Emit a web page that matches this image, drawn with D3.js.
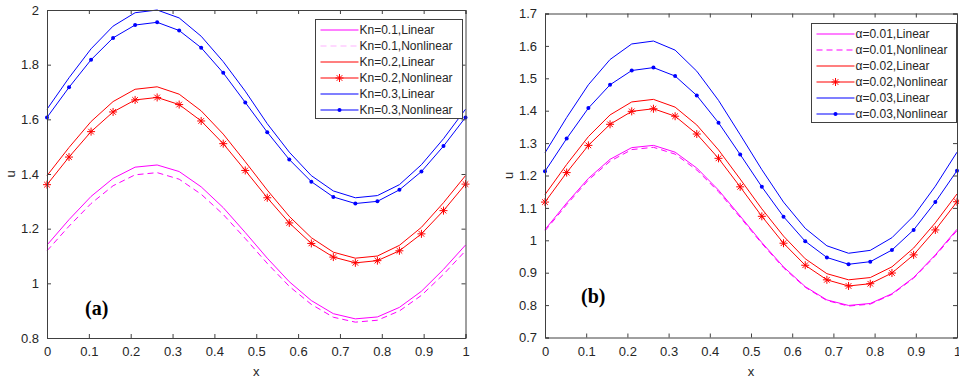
<!DOCTYPE html>
<html>
<head>
<meta charset="utf-8">
<script src="https://cdn.jsdelivr.net/npm/d3@7"></script>
<style>
  body { margin: 0; background: #fff; }
  svg { display: block; font-family: "Liberation Sans", Arial, sans-serif; }
</style>
</head>
<body>
<div id="chart"></div>
<script>
// x grid shared by every curve (20 samples)
const xs = [0, 0.0526, 0.1053, 0.1579, 0.2105, 0.2632, 0.3158, 0.3684, 0.4211, 0.4737,
  0.5263, 0.5789, 0.6316, 0.6842, 0.7368, 0.7895, 0.8421, 0.8947, 0.9474, 1];

// panel (a): Knudsen number
const kn01Linear = [1.140, 1.233, 1.318, 1.384, 1.425, 1.433, 1.409, 1.353, 1.277, 1.186,
  1.092, 1.006, 0.937, 0.889, 0.870, 0.877, 0.912, 0.971, 1.051, 1.140];
const kn01Nonlinear = [1.119, 1.209, 1.292, 1.357, 1.397, 1.405, 1.381, 1.326, 1.252, 1.164,
  1.073, 0.989, 0.923, 0.876, 0.858, 0.865, 0.899, 0.956, 1.033, 1.119];
const kn02Linear = [1.394, 1.497, 1.592, 1.665, 1.710, 1.719, 1.692, 1.631, 1.546, 1.445,
  1.341, 1.245, 1.167, 1.114, 1.092, 1.100, 1.139, 1.205, 1.295, 1.394];
const kn02Nonlinear = [1.361, 1.462, 1.555, 1.627, 1.671, 1.680, 1.654, 1.594, 1.511, 1.413,
  1.313, 1.221, 1.146, 1.096, 1.075, 1.083, 1.119, 1.181, 1.266, 1.363];
const kn03Linear = [1.637, 1.752, 1.858, 1.941, 1.990, 2.000, 1.971, 1.904, 1.811, 1.703,
  1.584, 1.480, 1.394, 1.338, 1.313, 1.321, 1.361, 1.434, 1.529, 1.637];
const kn03Nonlinear = [1.607, 1.717, 1.818, 1.898, 1.945, 1.955, 1.925, 1.862, 1.770, 1.662,
  1.553, 1.453, 1.372, 1.316, 1.292, 1.300, 1.342, 1.409, 1.502, 1.607];

// panel (b): alpha
const a001Linear = [1.033, 1.115, 1.191, 1.250, 1.286, 1.293, 1.272, 1.223, 1.155, 1.075,
  0.993, 0.918, 0.857, 0.816, 0.799, 0.805, 0.835, 0.885, 0.955, 1.034];
const a001Nonlinear = [1.029, 1.110, 1.186, 1.244, 1.280, 1.287, 1.266, 1.217, 1.150, 1.071,
  0.990, 0.915, 0.855, 0.814, 0.797, 0.803, 0.833, 0.883, 0.952, 1.030];
const a002Linear = [1.141, 1.234, 1.320, 1.387, 1.427, 1.435, 1.411, 1.356, 1.279, 1.189,
  1.097, 1.013, 0.943, 0.897, 0.878, 0.885, 0.918, 0.976, 1.054, 1.143];
const a002Nonlinear = [1.118, 1.209, 1.293, 1.358, 1.398, 1.406, 1.383, 1.328, 1.253, 1.165,
  1.074, 0.991, 0.923, 0.878, 0.859, 0.866, 0.899, 0.955, 1.032, 1.119];
const a003Linear = [1.270, 1.379, 1.480, 1.558, 1.606, 1.615, 1.587, 1.522, 1.432, 1.326,
  1.218, 1.118, 1.037, 0.983, 0.960, 0.969, 1.008, 1.075, 1.167, 1.272];
const a003Nonlinear = [1.213, 1.314, 1.408, 1.480, 1.524, 1.533, 1.507, 1.447, 1.363, 1.265,
  1.165, 1.073, 0.997, 0.947, 0.926, 0.934, 0.970, 1.032, 1.118, 1.215];

const xTicks = [0, 0.1, 0.2, 0.3, 0.4, 0.5, 0.6, 0.7, 0.8, 0.9, 1];
const yTicksA = [0.8, 1, 1.2, 1.4, 1.6, 1.8, 2];
const yTicksB = [0.7, 0.8, 0.9, 1, 1.1, 1.2, 1.3, 1.4, 1.5, 1.6, 1.7];

const namesA = ["Kn=0.1,Linear", "Kn=0.1,Nonlinear", "Kn=0.2,Linear", "Kn=0.2,Nonlinear", "Kn=0.3,Linear", "Kn=0.3,Nonlinear"];
const namesB = ["α=0.01,Linear", "α=0.01,Nonlinear", "α=0.02,Linear", "α=0.02,Nonlinear", "α=0.03,Linear", "α=0.03,Nonlinear"];

const W = 959, H = 379;
const axisColor = "#404040", textColor = "#262626";

const svg = d3.select("#chart").append("svg")
  .attr("width", W).attr("height", H);

// style per series slot (same in both panels)
const styles = [
  { color: "#ff00ff", dash: null, marker: null },
  { color: "#ff00ff", dash: "6,4", marker: null },
  { color: "#ff0000", dash: null, marker: null },
  { color: "#ff0000", dash: null, marker: "star" },
  { color: "#0000ff", dash: null, marker: null },
  { color: "#0000ff", dash: null, marker: "dot" }
];

function drawStar(g, x, y, color) {
  const r = 4;
  const s = g.append("g").attr("transform", `translate(${x},${y})`)
    .style("stroke", color).style("stroke-width", 1);
  s.append("line").attr("x1", -r).attr("x2", r).attr("y1", 0).attr("y2", 0);
  s.append("line").attr("x1", 0).attr("x2", 0).attr("y1", -r).attr("y2", r);
  s.append("line").attr("x1", -r * 0.7).attr("x2", r * 0.7).attr("y1", -r * 0.7).attr("y2", r * 0.7);
  s.append("line").attr("x1", -r * 0.7).attr("x2", r * 0.7).attr("y1", r * 0.7).attr("y2", -r * 0.7);
}

function drawPanel(p) {
  const x = d3.scaleLinear().domain([0, 1]).range([p.left, p.right]);
  const y = d3.scaleLinear().domain(p.yDomain).range([p.bottom, p.top]);
  const g = svg.append("g");

  // curves
  const curve = d3.line().x((d, i) => x(xs[i])).y(d => y(d));
  p.series.forEach((vals, k) => {
    const st = styles[k];
    g.append("path").datum(vals)
      .attr("d", curve)
      .style("fill", "none")
      .style("stroke", st.color)
      .style("stroke-width", 1)
      .style("stroke-dasharray", st.dash || "none");
    if (st.marker === "star") {
      vals.forEach((v, i) => drawStar(g, x(xs[i]), y(v), st.color));
    } else if (st.marker === "dot") {
      g.selectAll(null).data(vals).enter().append("circle")
        .attr("cx", (d, i) => x(xs[i])).attr("cy", d => y(d))
        .attr("r", 2).style("fill", st.color);
    }
  });

  // axes, ticks pointing inward on all four sides
  const fmt = d3.format("~g");
  const bottomAxis = g.append("g").attr("transform", `translate(0,${p.bottom})`)
    .call(d3.axisBottom(x).tickValues(xTicks).tickSize(-4).tickPadding(9).tickFormat(fmt));
  const topAxis = g.append("g").attr("transform", `translate(0,${p.top})`)
    .call(d3.axisTop(x).tickValues(xTicks).tickSize(-4).tickFormat(""));
  const leftAxis = g.append("g").attr("transform", `translate(${p.left},0)`)
    .call(d3.axisLeft(y).tickValues(p.yTicks).tickSize(-4).tickPadding(8).tickFormat(fmt));
  const rightAxis = g.append("g").attr("transform", `translate(${p.right},0)`)
    .call(d3.axisRight(y).tickValues(p.yTicks).tickSize(-4).tickFormat(""));
  [bottomAxis, topAxis, leftAxis, rightAxis].forEach(a => {
    a.select(".domain").attr("stroke", axisColor);
    a.selectAll(".tick line").attr("stroke", axisColor);
    a.selectAll(".tick text").attr("fill", textColor).attr("font-size", 13)
      .attr("font-family", "Liberation Sans, Arial, sans-serif");
  });

  // axis titles
  g.append("text").attr("x", (p.left + p.right) / 2).attr("y", 376)
    .attr("text-anchor", "middle").attr("font-size", 13).attr("fill", textColor).text("x");
  g.append("text")
    .attr("transform", `translate(${p.left - 32},${(p.top + p.bottom) / 2}) rotate(-90)`)
    .attr("text-anchor", "middle").attr("font-size", 13).attr("fill", textColor).text("u");

  // panel tag
  g.append("text").attr("x", p.tagX).attr("y", p.tagY)
    .attr("font-family", "Liberation Serif, Times New Roman, serif")
    .attr("font-weight", "bold").attr("font-size", 20).attr("fill", "#000")
    .text(p.tag);

  // legend
  const lg = g.append("g").attr("transform", `translate(${p.legX},${p.legY})`);
  lg.append("rect").attr("x", 0).attr("y", 0)
    .attr("width", p.legW).attr("height", 99)
    .style("fill", "#fff").style("stroke", axisColor).style("stroke-width", 1);
  p.names.forEach((name, k) => {
    const st = styles[k];
    const ry = 10 + k * 16;
    const faded = p.tag === "(a)" && k === 1;
    lg.append("path")
      .attr("d", `M5,${ry + 0.5}H43`)
      .style("fill", "none")
      .style("stroke", faded ? "#ffb3ff" : st.color)
      .style("stroke-width", 1.2)
      .style("stroke-dasharray", st.dash || "none");
    if (st.marker === "star") drawStar(lg, 24, ry + 0.5, st.color);
    if (st.marker === "dot") lg.append("circle").attr("cx", 24).attr("cy", ry + 0.5).attr("r", 2).style("fill", st.color);
    lg.append("text").attr("x", 44).attr("y", ry + 4.5)
      .attr("font-size", 12).attr("fill", textColor).text(name);
  });
}

drawPanel({
  left: 47, right: 465.5, top: 10, bottom: 338,
  yDomain: [0.8, 2], yTicks: yTicksA,
  series: [kn01Linear, kn01Nonlinear, kn02Linear, kn02Nonlinear, kn03Linear, kn03Nonlinear],
  names: namesA, tag: "(a)", tagX: 85, tagY: 315,
  legX: 315.5, legY: 19.5, legW: 147
});

drawPanel({
  left: 545, right: 957, top: 13.5, bottom: 337.5,
  yDomain: [0.7, 1.7], yTicks: yTicksB,
  series: [a001Linear, a001Nonlinear, a002Linear, a002Nonlinear, a003Linear, a003Nonlinear],
  names: namesB, tag: "(b)", tagX: 581, tagY: 303,
  legX: 811.5, legY: 23.5, legW: 145
});
</script>
</body>
</html>
